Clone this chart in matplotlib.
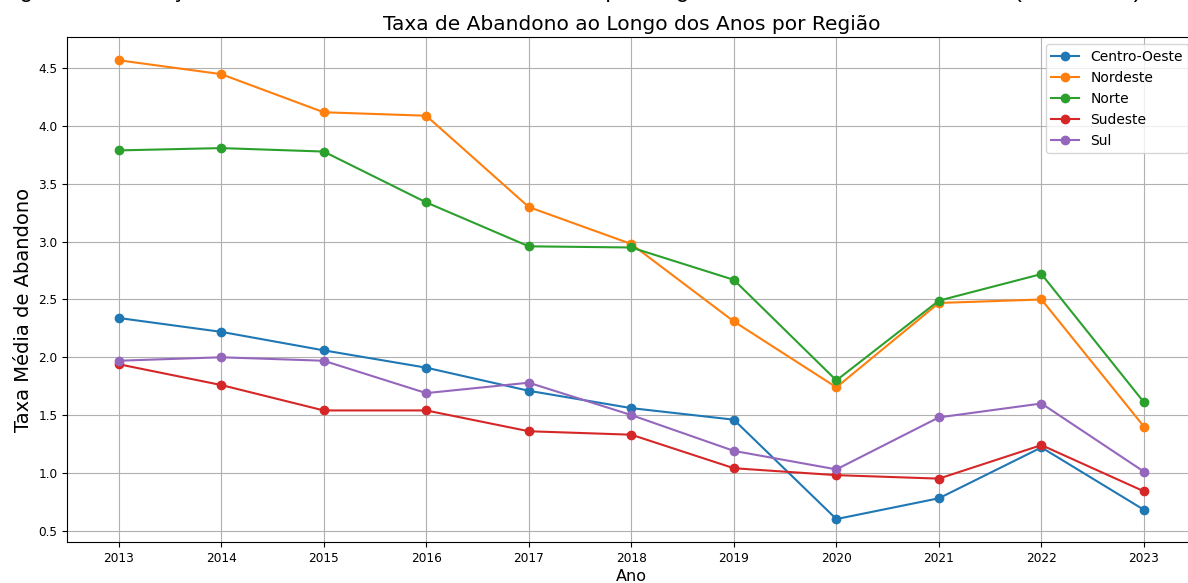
import matplotlib
matplotlib.use("Agg")
import matplotlib.pyplot as plt

# Average dropout rate by region, 2013-2023
anos = [2013, 2014, 2015, 2016, 2017, 2018, 2019, 2020, 2021, 2022, 2023]

centro_oeste = [2.34, 2.22, 2.06, 1.91, 1.71, 1.56, 1.46, 0.60, 0.78, 1.22, 0.68]
nordeste = [4.57, 4.45, 4.12, 4.09, 3.30, 2.98, 2.31, 1.74, 2.47, 2.50, 1.40]
norte = [3.79, 3.81, 3.78, 3.34, 2.96, 2.95, 2.67, 1.80, 2.49, 2.72, 1.61]
sudeste = [1.94, 1.76, 1.54, 1.54, 1.36, 1.33, 1.04, 0.98, 0.95, 1.24, 0.84]
sul = [1.97, 2.00, 1.97, 1.69, 1.78, 1.50, 1.19, 1.03, 1.48, 1.60, 1.01]

regioes = ["Centro-Oeste", "Nordeste", "Norte", "Sudeste", "Sul"]
series = [centro_oeste, nordeste, norte, sudeste, sul]

titulo = "Taxa de Abandono ao Longo dos Anos por Região"
legenda_figura = ("Figura 1 – Evolução da Taxa Média de Abandono Escolar por Região "
                  "no Ensino Médio Brasileiro (2013-2023)")

fig = plt.figure(figsize=(11.88, 5.83), dpi=100)
ax = fig.add_axes([0.0567, 0.0703, 0.9494, 0.8657])

for nome, valores in zip(regioes, series):
    ax.plot(anos, valores, marker="o", label=nome)

ax.set_xticks(anos)
ax.tick_params(labelsize=8.7)
ax.set_xlabel("Ano", fontsize=11.5, labelpad=3)
ax.set_ylabel("Taxa Média de Abandono", fontsize=14)
ax.yaxis.label.set_y(0.46)
ax.set_title(titulo, fontsize=14.5, pad=5)
ax.grid(True)
ax.legend(loc="upper right", fontsize=10)

# Document caption sitting above the chart
fig.text(0.0, 1.0045, legenda_figura, fontsize=16.9,
         family="Liberation Sans", ha="left", va="baseline")

fig.savefig("out.png", dpi=100)
